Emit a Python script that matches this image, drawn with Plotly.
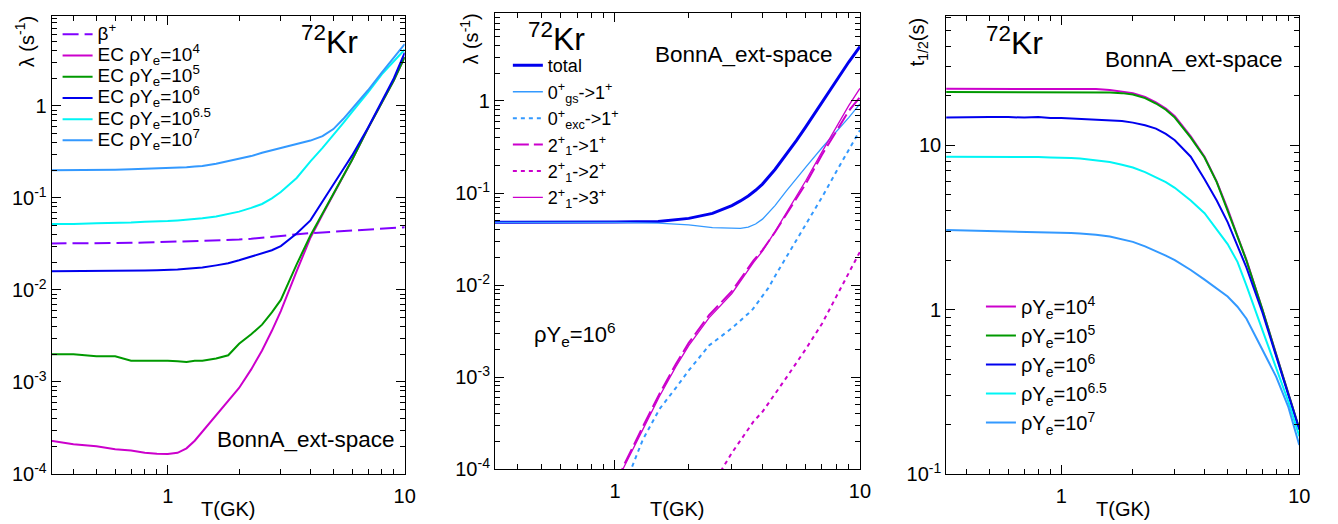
import math
import plotly.graph_objects as go

W, H = 1338, 524

# ---------------- Panel 1: rates vs T ----------------
T_a = [0.32, 0.4, 0.5, 0.6, 0.7, 0.8, 0.9, 1.0, 1.1, 1.2, 1.3, 1.4, 1.6, 1.8, 2.0,
       2.25, 2.5, 2.75, 3.0, 3.5, 4.0, 4.5, 5.0, 5.5, 6.0, 7.0, 8.0, 9.0, 10.0]
beta_plus = [0.032, 0.032, 0.032, 0.0322, 0.0325, 0.0327, 0.033, 0.0332, 0.0335, 0.0338,
             0.034, 0.0342, 0.0346, 0.035, 0.0353, 0.036, 0.037, 0.038, 0.039, 0.040,
             0.0415, 0.0422, 0.043, 0.0437, 0.0445, 0.0455, 0.0465, 0.0472, 0.048]
ec_1e4 = [2.3e-4, 2.1e-4, 2.0e-4, 1.86e-4, 1.8e-4, 1.7e-4, 1.66e-4, 1.65e-4, 1.7e-4, 1.9e-4,
          2.3e-4, 2.9e-4, 4.3e-4, 6.2e-4, 8.6e-4, 1.37e-3, 2.2e-3, 3.6e-3, 5.9e-3, 0.016,
          0.037, 0.066, 0.108, 0.17, 0.26, 0.57, 1.1, 1.9, 3.4]
ec_1e5 = [0.0020, 0.0020, 0.0019, 0.0019, 0.0017, 0.0017, 0.00172, 0.0017, 0.00168, 0.00165,
          0.0017, 0.0017, 0.0018, 0.00195, 0.0026, 0.0033, 0.0042, 0.0057, 0.0078, 0.019,
          0.039, 0.067, 0.11, 0.17, 0.26, 0.57, 1.1, 1.9, 3.4]
ec_1e6 = [0.0160, 0.0160, 0.0160, 0.0161, 0.0162, 0.0163, 0.0164, 0.0165, 0.0167, 0.017,
          0.0172, 0.0175, 0.0185, 0.0195, 0.021, 0.023, 0.025, 0.027, 0.030, 0.041,
          0.057, 0.09, 0.14, 0.205, 0.29, 0.58, 1.13, 2.0, 3.8]
ec_1e65 = [0.052, 0.052, 0.053, 0.053, 0.054, 0.055, 0.055, 0.056, 0.057, 0.058,
           0.059, 0.060, 0.063, 0.067, 0.071, 0.078, 0.086, 0.099, 0.116, 0.165,
           0.25, 0.35, 0.48, 0.65, 0.86, 1.4, 2.2, 3.1, 4.1]
ec_1e7 = [0.200, 0.200, 0.201, 0.203, 0.205, 0.207, 0.209, 0.211, 0.213, 0.216,
          0.219, 0.222, 0.235, 0.25, 0.265, 0.285, 0.31, 0.33, 0.35, 0.385,
          0.42, 0.47, 0.56, 0.72, 0.93, 1.48, 2.3, 3.4, 4.7]

# ---------------- Panel 2: transitions, rhoYe=1e6 ----------------
T_tot = [0.32, 0.5, 0.7, 1.0, 1.5, 2.0, 2.5, 3.0, 3.25, 3.5, 3.75, 4.0, 4.5, 5.0, 5.5,
         6.0, 7.0, 8.0, 9.0, 10.0]
lam_total = [0.048, 0.048, 0.048, 0.0485, 0.049, 0.053, 0.060, 0.073, 0.082, 0.093, 0.107,
             0.125, 0.18, 0.26, 0.37, 0.52, 0.97, 1.68, 2.65, 3.9]
lam_0gs_1 = [0.048, 0.048, 0.048, 0.048, 0.047, 0.045, 0.042, 0.041, 0.0412, 0.0425, 0.046,
             0.052, 0.073, 0.105, 0.145, 0.19, 0.31, 0.46, 0.66, 0.93]
T_exc = [1.10, 1.164, 1.30, 1.52, 1.77, 2.0, 2.42, 3.0, 3.62, 4.0, 4.23, 4.5, 4.79, 5.25,
         6.0, 7.0, 8.0, 9.0, 10.0]
lam_0exc_1 = [6e-5, 1.0e-4, 2.1e-4, 4.5e-4, 7.6e-4, 1.18e-3, 2.2e-3, 3.4e-3, 5.3e-3, 7.5e-3,
              9.3e-3, 0.0125, 0.0165, 0.0243, 0.045, 0.09, 0.17, 0.29, 0.48]
T_21 = [1.03, 1.077, 1.30, 1.52, 1.77, 2.0, 2.42, 3.0, 3.68, 4.0, 4.5, 5.0, 5.5, 6.0,
        7.0, 8.0, 9.0, 10.0]
lam_21_1 = [7e-5, 1.05e-4, 2.9e-4, 6.6e-4, 1.38e-3, 2.35e-3, 4.7e-3, 8.6e-3, 0.0185, 0.024,
            0.0375, 0.058, 0.086, 0.125, 0.26, 0.47, 0.78, 1.1]
lam_21_3 = [6.5e-5, 1.0e-4, 2.7e-4, 6.2e-4, 1.29e-3, 2.2e-3, 4.4e-3, 8.1e-3, 0.0176, 0.0234,
            0.038, 0.060, 0.09, 0.135, 0.28, 0.52, 0.89, 1.37]
T_22 = [2.6, 2.74, 3.0, 3.68, 4.0, 5.0, 6.0, 7.0, 7.85, 9.0, 10.0]
lam_21_2 = [8e-5, 1.0e-4, 1.5e-4, 3.3e-4, 4.2e-4, 9.8e-4, 2.0e-3, 3.8e-3, 6.9e-3, 0.0135, 0.023]

# ---------------- Panel 3: half-lives (same T grid as panel 1) ----------------
thalf_1e4 = [22.0, 22.0, 22.0, 22.0, 22.0, 22.0, 22.0, 22.0, 22.0, 22.0,
             22.0, 21.9, 21.6, 21.2, 20.7, 19.6, 18.2, 16.7, 15.0, 11.3,
             8.5, 6.0, 4.1, 2.8, 2.0, 1.0, 0.53, 0.31, 0.188]
thalf_1e5 = [21.0, 21.0, 21.0, 21.0, 21.1, 21.1, 21.1, 21.1, 21.0, 21.0,
             21.0, 21.0, 20.9, 20.7, 20.3, 19.3, 17.9, 16.4, 14.7, 11.1,
             8.4, 5.95, 4.05, 2.78, 1.98, 1.0, 0.53, 0.31, 0.188]
thalf_1e6 = [14.7, 14.8, 14.8, 14.8, 14.7, 14.8, 14.6, 14.6, 14.5, 14.4,
             14.4, 14.3, 14.2, 14.0, 13.7, 13.2, 12.6, 11.7, 10.7, 8.5,
             6.2, 4.6, 3.4, 2.45, 1.8, 0.96, 0.52, 0.305, 0.186]
thalf_1e65 = [8.5, 8.5, 8.5, 8.5, 8.5, 8.45, 8.4, 8.4, 8.35, 8.3,
              8.2, 8.1, 7.9, 7.6, 7.3, 6.85, 6.4, 5.95, 5.5, 4.6,
              3.85, 3.05, 2.5, 1.95, 1.4, 0.75, 0.44, 0.275, 0.17]
thalf_1e7 = [3.05, 3.03, 3.0, 3.0, 2.98, 2.97, 2.96, 2.95, 2.92, 2.9,
             2.88, 2.85, 2.78, 2.68, 2.58, 2.42, 2.27, 2.13, 2.0, 1.74,
             1.52, 1.35, 1.2, 1.04, 0.88, 0.57, 0.39, 0.255, 0.15]

# ---------------- styling ----------------
MAG = "#cc00cc"
GRN = "#009900"
BLU = "#0000ee"
CYA = "#00f5f5"
AZU = "#3399ff"
VIO = "#8000ff"
FONT = "Liberation Sans, Arial, Helvetica, sans-serif"


def xd(a, b):
    return [a / W, b / W]


def yd(top, bot):
    return [1 - bot / H, 1 - top / H]


fig = go.Figure()

LEG1 = "<span style='font-size:19px'>%s</span>"

# panel 1
p1 = [
    ("β<sup>+</sup>", beta_plus, VIO, "16px,6px", 2),
    ("EC ρY<sub>e</sub>=10<sup>4</sup>", ec_1e4, MAG, "solid", 2),
    ("EC ρY<sub>e</sub>=10<sup>5</sup>", ec_1e5, GRN, "solid", 2),
    ("EC ρY<sub>e</sub>=10<sup>6</sup>", ec_1e6, BLU, "solid", 2),
    ("EC ρY<sub>e</sub>=10<sup>6.5</sup>", ec_1e65, CYA, "solid", 2),
    ("EC ρY<sub>e</sub>=10<sup>7</sup>", ec_1e7, AZU, "solid", 2),
]
for name, ys, col, dash, w in p1:
    fig.add_trace(go.Scatter(x=T_a, y=ys, mode="lines", name=LEG1 % name,
                             line=dict(color=col, dash=dash, width=w),
                             xaxis="x", yaxis="y", legend="legend"))

# panel 2
p2 = [
    ("total", T_tot, lam_total, BLU, "solid", 3),
    ("0<sup>+</sup><sub>gs</sub>->1<sup>+</sup>", T_tot, lam_0gs_1, AZU, "solid", 1.3),
    ("0<sup>+</sup><sub>exc</sub>->1<sup>+</sup>", T_exc, lam_0exc_1, AZU, "4px,4px", 2),
    ("2<sup>+</sup><sub>1</sub>->1<sup>+</sup>", T_21, lam_21_1, MAG, "16px,5px", 2),
    ("2<sup>+</sup><sub>1</sub>->2<sup>+</sup>", T_22, lam_21_2, MAG, "4px,4px", 2),
    ("2<sup>+</sup><sub>1</sub>->3<sup>+</sup>", T_21, lam_21_3, MAG, "solid", 1.3),
]
for name, xs, ys, col, dash, w in p2:
    fig.add_trace(go.Scatter(x=xs, y=ys, mode="lines", name=name,
                             line=dict(color=col, dash=dash, width=w),
                             xaxis="x2", yaxis="y2", legend="legend2"))

# panel 3
p3 = [
    ("ρY<sub>e</sub>=10<sup>4</sup>", thalf_1e4, MAG),
    ("ρY<sub>e</sub>=10<sup>5</sup>", thalf_1e5, GRN),
    ("ρY<sub>e</sub>=10<sup>6</sup>", thalf_1e6, BLU),
    ("ρY<sub>e</sub>=10<sup>6.5</sup>", thalf_1e65, CYA),
    ("ρY<sub>e</sub>=10<sup>7</sup>", thalf_1e7, AZU),
]
for name, ys, col in p3:
    fig.add_trace(go.Scatter(x=T_a, y=ys, mode="lines", name=name,
                             line=dict(color=col, width=2),
                             xaxis="x3", yaxis="y3", legend="legend3"))

x_minor = [0.4, 0.5, 0.6, 0.7, 0.8, 0.9, 2, 3, 4, 5, 6, 7, 8, 9]


def y_minor(lo, hi):
    out = []
    for n in range(lo, hi + 1):
        for k in range(2, 10):
            out.append(k * 10.0 ** n)
    return out


def sup_label(v):
    if v == 1:
        return "1"
    if v == 10:
        return "10"
    e = int(round(math.log10(v)))
    return "10<sup>%d</sup>" % e


common = dict(type="log", showline=True, linecolor="black", linewidth=1, mirror="allticks",
              ticks="inside", ticklen=9, tickwidth=1, tickcolor="black", showgrid=False,
              zeroline=False, tickfont=dict(family=FONT, size=20, color="black"))

xcommon = dict(common, range=[-0.49, 1.0], tickvals=[1, 10], ticktext=["1", "10"],
               minor=dict(ticks="inside", ticklen=5, tickcolor="black", tickvals=x_minor,
                          showgrid=False),
               ticklabelstandoff=4)

yv1 = [1e-4, 1e-3, 1e-2, 1e-1, 1]
yv3 = [0.1, 1, 10]

fig.update_layout(
    width=W, height=H, margin=dict(l=0, r=0, t=0, b=0),
    paper_bgcolor="white", plot_bgcolor="white",
    font=dict(family=FONT, color="black"),
    xaxis=dict(xcommon, domain=xd(44, 400), anchor="y"),
    yaxis=dict(common, domain=yd(8, 476), anchor="x", range=[-4, 0.979],
               tickvals=yv1, ticktext=[sup_label(v) for v in yv1],
               minor=dict(ticks="inside", ticklen=5, tickcolor="black",
                          tickvals=y_minor(-4, 0), showgrid=False)),
    xaxis2=dict(xcommon, domain=xd(491, 859), anchor="y2"),
    yaxis2=dict(common, domain=yd(5, 471), anchor="x2", range=[-4, 0.957],
                tickvals=yv1, ticktext=[sup_label(v) for v in yv1],
                minor=dict(ticks="inside", ticklen=5, tickcolor="black",
                           tickvals=y_minor(-4, 0), showgrid=False)),
    xaxis3=dict(xcommon, domain=xd(946, 1302), anchor="y3", range=[-0.483, 1.0]),
    yaxis3=dict(common, domain=yd(8, 476), anchor="x3", range=[-1, 1.786],
                tickvals=yv3, ticktext=[sup_label(v) for v in yv3],
                minor=dict(ticks="inside", ticklen=5, tickcolor="black",
                           tickvals=y_minor(-1, 1), showgrid=False)),
    legend=dict(x=50 / W, y=1 - 11 / H, xanchor="left", yanchor="top",
                bgcolor="rgba(0,0,0,0)", font=dict(family=FONT, size=14),
                itemwidth=30, tracegroupgap=0),
    legend2=dict(x=504 / W, y=1 - 40 / H, xanchor="left", yanchor="top",
                 bgcolor="rgba(0,0,0,0)", font=dict(family=FONT, size=18),
                 itemwidth=30, tracegroupgap=0),
    legend3=dict(x=981 / W, y=1 - 285 / H, xanchor="left", yanchor="top",
                 bgcolor="rgba(0,0,0,0)", font=dict(family=FONT, size=20),
                 itemwidth=30, tracegroupgap=0),
    showlegend=True,
)

ann = []


def A(text, x, y, size, xanchor="left", yanchor="middle", angle=0):
    ann.append(dict(text=text, x=x / W, y=1 - y / H, xref="paper", yref="paper",
                    xanchor=xanchor, yanchor=yanchor, showarrow=False, textangle=angle,
                    font=dict(family=FONT, size=size, color="black")))


# axis titles
for cx in (222, 675, 1124):
    A("T(GK)", cx, 512, 20, xanchor="center")
A("λ (s<sup>-1</sup>)", 17, 6, 20, xanchor="center", yanchor="top", angle=-90)
A("λ (s<sup>-1</sup>)", 465, 4, 20, xanchor="center", yanchor="top", angle=-90)
A("t<sub>1/2</sub>(s)", 918, 8, 20, xanchor="center", yanchor="top", angle=-90)

# nucleus labels
A("<sup>72</sup>Kr", 293, 33, 32)
A("<sup>72</sup>Kr", 522, 30, 32)
A("<sup>72</sup>Kr", 984, 34, 32)

# model labels
A("BonnA_ext-space", 209, 441, 22.5)
A("BonnA_ext-space", 650, 47, 22.5)
A("BonnA_ext-space", 1104, 53, 22.5)

A("ρY<sub>e</sub>=10<sup>6</sup>", 528, 334, 22)

fig.update_layout(annotations=ann)

fig.write_html("out.html")
